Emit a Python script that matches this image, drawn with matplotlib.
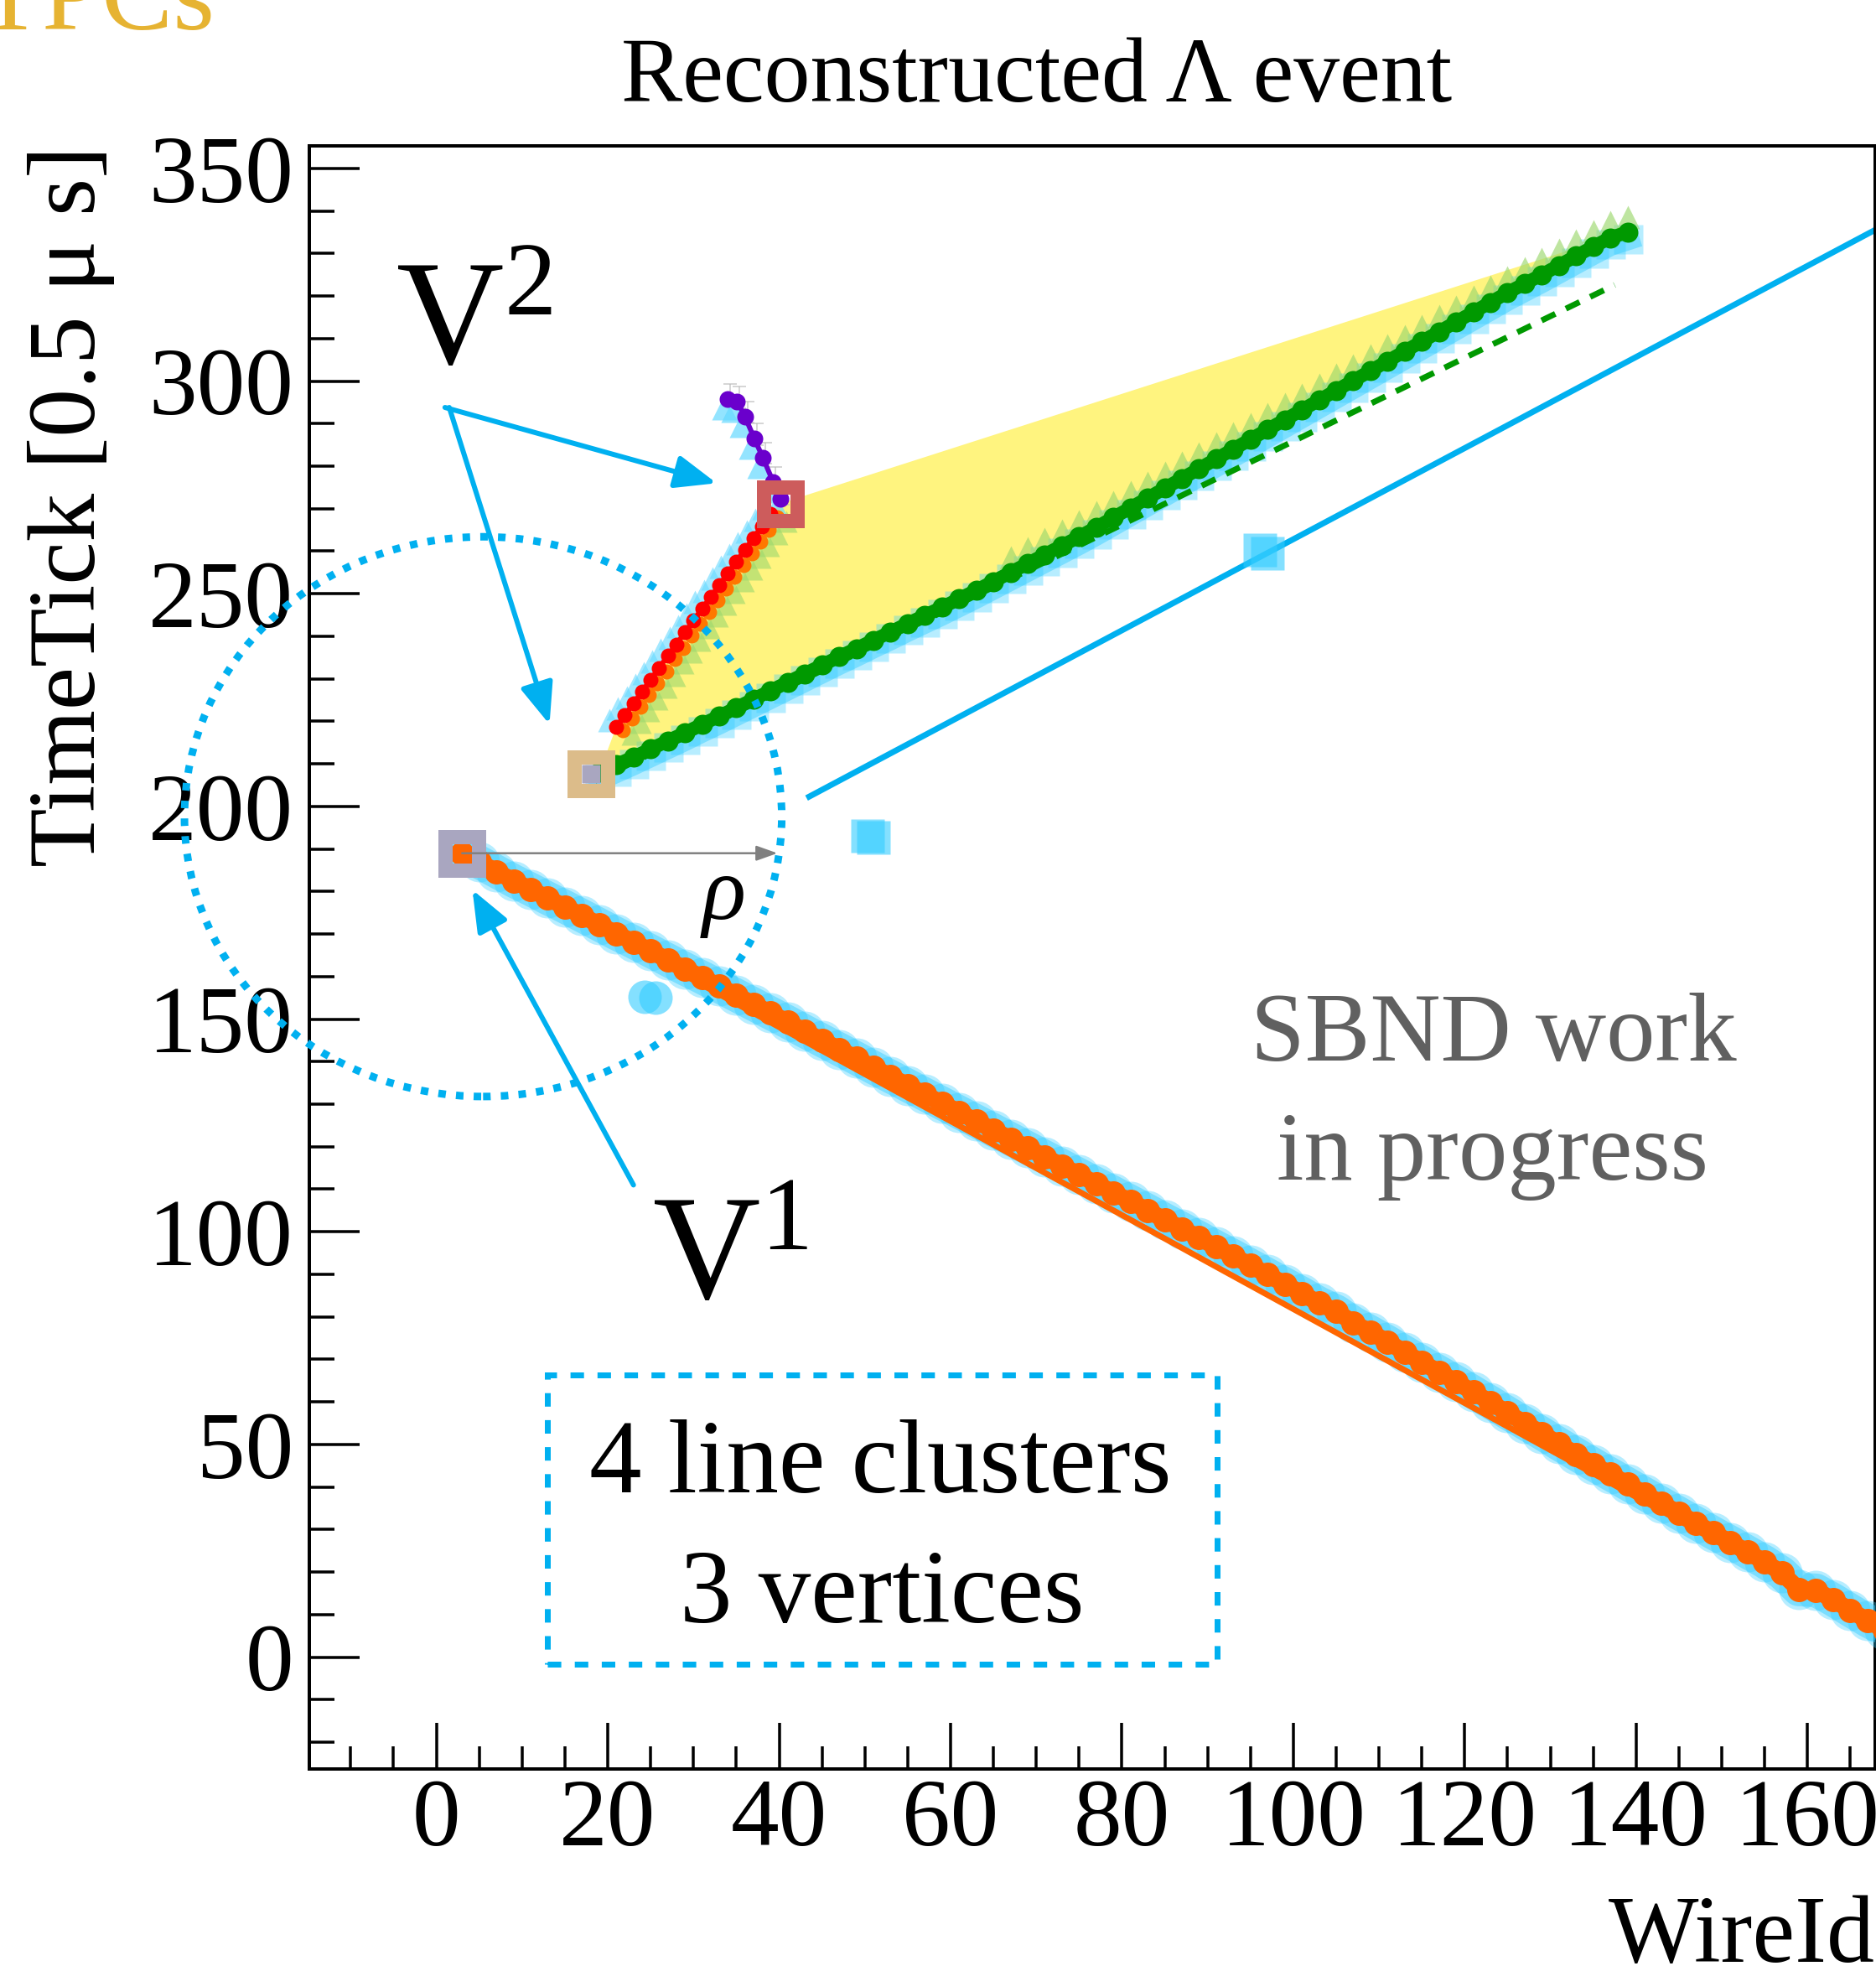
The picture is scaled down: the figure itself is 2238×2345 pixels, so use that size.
import numpy as np
import matplotlib
matplotlib.use("Agg")
from matplotlib import pyplot as plt
from matplotlib.patches import Ellipse, Rectangle, Polygon
from matplotlib.markers import MarkerStyle
from matplotlib.ticker import MultipleLocator

plt.rcParams["font.family"] = ["Liberation Serif", "DejaVu Serif"]
plt.rcParams["mathtext.fontset"] = "custom"
plt.rcParams["mathtext.rm"] = "Liberation Serif"

PX = 0.72  # points per pixel at dpi=100

# ---- data (WireId, TimeTick) ----
# cluster 1: long orange track from V1 down to the right edge
orange_wire = np.arange(3, 170, 2)
orange_time = [189.0, 186.9, 184.7, 182.5, 180.5, 178.4, 176.4, 174.3, 172.2, 170.1,
               168.1, 166.0, 163.9, 161.8, 159.8, 157.7, 155.6, 153.5, 151.4, 149.3,
               147.1, 145.0, 142.9, 140.8, 138.6, 136.5, 134.4, 132.3, 130.2, 128.1,
               126.0, 123.9, 121.8, 119.7, 117.6, 115.5, 113.4, 111.3, 109.2, 107.1,
               105.0, 102.8, 100.7, 98.6, 96.4, 94.3, 92.1, 89.9, 87.7, 85.5,
               83.2, 81.3, 78.6, 76.4, 74.1, 71.7, 69.3, 67.0, 64.7, 62.3,
               59.9, 57.4, 55.0, 52.6, 50.1, 47.7, 45.3, 43.0, 40.7, 38.4,
               36.1, 33.8, 31.5, 29.2, 27.0, 24.7, 22.4, 19.8, 15.9, 15.7,
               13.5, 11.0, 8.6, 6.4]
orange_fit_wire = [3.0, 169.0]
orange_fit_time = [189.0, 5.6]

# cluster 2: green track from V2 up to the right
green_wire = np.arange(19, 140, 2)
green_time = [208.0, 209.8, 211.6, 213.5, 215.4, 217.3, 219.3, 221.2, 223.2, 225.2,
              227.2, 229.2, 231.2, 233.2, 235.2, 237.1, 239.1, 241.0, 243.0, 244.9,
              246.8, 248.8, 250.8, 252.9, 255.0, 257.1, 259.2, 261.3, 263.4, 265.6,
              267.9, 270.2, 272.5, 274.8, 277.1, 279.4, 281.7, 284.0, 286.3, 288.6,
              290.9, 293.2, 295.5, 297.8, 300.1, 302.4, 304.7, 307.0, 309.3, 311.6,
              313.9, 316.2, 318.5, 320.8, 322.9, 325.0, 327.2, 329.4, 331.6, 333.7,
              335.0]
green_fit_wire = [18.5, 137.5]
green_fit_time = [206.0, 322.6]

# cluster 3: red track V2 -> V3
red_wire = np.arange(21, 40, 1)
red_time = [218.7, 221.5, 224.2, 227.0, 229.8, 232.6, 235.4, 238.1, 240.9, 243.7,
            246.5, 249.2, 252.0, 254.8, 257.6, 260.3, 263.1, 265.9, 268.7]

# cluster 4: short purple track ending at V3
purple_wire = [34.0, 35.1, 36.0, 37.1, 38.1, 39.3, 40.1]
purple_time = [295.8, 295.2, 291.7, 286.5, 282.0, 276.3, 272.4]

# vertices
vtx_wire = [3.0, 18.0, 40.1]
vtx_time = [189.0, 207.6, 271.2]
vtx_colors = ["#a9a6c0", "#dcbc8a", "#cd5c5c"]

# unassociated hits and a stray straight line
iso_sq_wire = [96.1, 97.0, 50.3, 51.0]
iso_sq_time = [260.3, 259.6, 193.1, 192.7]
iso_circ_wire = [24.3, 25.6]
iso_circ_time = [155.3, 155.0]
cyan_wire = [43.5, 170.0]
cyan_time = [202.3, 337.8]

# upper corner of the opening-angle region
cone_tip_wire = 138.0
cone_tip_time = 334.5

CYAN = "#00b0f0"
HALO = "#33ccff"

fig = plt.figure(figsize=(22.38, 23.45), dpi=100)
ax = fig.add_axes([369.3 / 2238, 235 / 2345, 1867.7 / 2238, 1936 / 2345])
ax.set_xlim(-14.8, 167.9)
ax.set_ylim(-26.3, 355.3)

# yellow region between the two daughter tracks
poly_x = np.concatenate([[vtx_wire[2], cone_tip_wire], green_wire[::-1], red_wire])
poly_y = np.concatenate([[vtx_time[2], cone_tip_time], green_time[::-1], red_time])
ax.add_patch(Polygon(np.column_stack([poly_x, poly_y]), closed=True,
                     fc="#fff47f", ec="none", zorder=1))

# stray line + isolated hits
ax.plot(cyan_wire, cyan_time, color=CYAN, lw=7 * PX, zorder=2)
ax.plot(iso_sq_wire, iso_sq_time, "s", ms=40 * PX, color=HALO, alpha=0.6, mec="none", zorder=3)
ax.plot(iso_circ_wire, iso_circ_time, "o", ms=40 * PX, color=HALO, alpha=0.6, mec="none", zorder=3)

# orange track: hit halo, straight fit, hits
ax.plot(orange_wire, orange_time, "-", lw=40 * PX, color=HALO, alpha=0.45,
        solid_capstyle="round", zorder=3)
ax.plot(orange_wire, orange_time, "o", ms=48 * PX, color=HALO, alpha=0.35, mec="none", zorder=3)
ax.plot(orange_fit_wire, orange_fit_time, color="#ff6600", lw=7 * PX, zorder=4)
ax.plot(orange_wire, orange_time, "-o", lw=20 * PX, ms=29 * PX, color="#ff6600",
        mec="none", zorder=5)

# green track
gw = np.array(green_wire)
gt = np.array(green_time)
ax.plot(gw, gt - 1.5, "-", lw=28 * PX, color=HALO, alpha=0.45, zorder=3)
ax.plot(gw, gt - 1.5, "s", ms=35 * PX, color=HALO, alpha=0.35, mec="none", zorder=3)
sel = gw >= 66
ax.plot(gw[sel], gt[sel] + 3.6, "^", ms=28 * PX, color="#9cd86e", alpha=0.65,
        mec="none", zorder=3)
ax.plot(green_fit_wire, green_fit_time, color="#009900", lw=7 * PX,
        ls=(0, (2.6, 2.0)), zorder=4)
ax.plot(gw, gt, "-o", ms=24 * PX, lw=16 * PX, color="#009900", mec="none", zorder=5)

# red track
rt = np.array(red_time)
ax.plot(red_wire - 0.8, rt + 1.5, "^", ms=28 * PX, color="#66d9ff", alpha=0.6, mec="none", zorder=3)
ax.plot(red_wire + 1.8, rt - 1.8, "^", ms=26 * PX, color="#9cd86e", alpha=0.6, mec="none", zorder=3)
ax.plot(red_wire + 0.8, rt - 0.8, "o", ms=18 * PX, color="#ff7700", mec="none", zorder=5)
ax.plot(red_wire, red_time, "-o", ms=18 * PX, lw=6 * PX, color="#ff0000", mec="none", zorder=6)

# purple track
pw = np.array(purple_wire)
pt = np.array(purple_time)
ax.errorbar(pw + 0.3, pt + 1.0, yerr=2.5, fmt="none", ecolor="#bbbbbb", elinewidth=2 * PX,
            capsize=6, capthick=2 * PX, alpha=0.6, zorder=3)
ax.plot(pw - 0.4, pt - 2.0, "^", ms=30 * PX, color="#66d9ff", alpha=0.7, mec="none", zorder=3)
ax.plot(purple_wire, purple_time, "-o", ms=20 * PX, lw=6 * PX, color="#6a00cc", mec="none", zorder=6)

# vertices
sq = MarkerStyle("s", joinstyle="miter")
for x, y, c in zip(vtx_wire, vtx_time, vtx_colors):
    ax.plot([x], [y], marker=sq, ms=40 * PX, mew=17 * PX, mfc="none", mec=c, zorder=8)
ax.plot([vtx_wire[1]], [vtx_time[1]], marker=sq, ms=22 * PX, color=vtx_colors[0], mec="none", zorder=7)

# search radius around V1
ax.add_patch(Ellipse((5.45, 197.6), 69.7, 131.6, fill=False, ec=CYAN, lw=9 * PX,
                     ls=(0, (1.0, 1.35)), clip_on=False, zorder=9))
ax.annotate("", xy=(39.8, vtx_time[0]), xytext=(vtx_wire[0], vtx_time[0]),
            arrowprops=dict(arrowstyle="-|>,head_length=0.7,head_width=0.25", color="#808080",
                            lw=2.5 * PX, mutation_scale=22, shrinkA=0, shrinkB=0), zorder=9)
ax.text(33.6, 178.7, "ρ", style="italic", fontsize=78, ha="center", va="center", zorder=9)

# vertex labels and arrows
arrow_kw = dict(arrowstyle="-|>,head_length=0.75,head_width=0.3", color=CYAN, lw=6 * PX,
                mutation_scale=40, shrinkA=0, shrinkB=0)
ax.annotate("", xy=(32.7, 276.0), xytext=(1.0, 293.8), arrowprops=arrow_kw, zorder=9)
ax.annotate("", xy=(13.2, 219.3), xytext=(1.5, 293.8), arrowprops=arrow_kw, zorder=9)
ax.annotate("", xy=(4.2, 180.4), xytext=(23.0, 111.0), arrowprops=arrow_kw, zorder=9)
ax.text(-4.8, 304.1, r"$\mathregular{V^{2}}$", fontsize=128, ha="left", va="baseline", zorder=9)
ax.text(25.2, 84.5, r"$\mathregular{V^{1}}$", fontsize=128, ha="left", va="baseline", zorder=9)

# text boxes
ax.text(123.4, 140.3, "SBND work", fontsize=84, color="#606060", ha="center", va="baseline")
ax.text(123.2, 112.3, "in progress", fontsize=84, color="#606060", ha="center", va="baseline")
ax.add_patch(Rectangle((13.0, -1.6), 78.1, 68.0, fill=False, ec=CYAN, lw=7 * PX,
                       ls=(0, (2.3, 2.3)), zorder=9))
ax.text(51.8, 38.8, "4 line clusters", fontsize=90, ha="center", va="baseline")
ax.text(52.0, 8.2, "3 vertices", fontsize=90, ha="center", va="baseline")

# axes styling
ax.xaxis.set_major_locator(MultipleLocator(20))
ax.xaxis.set_minor_locator(MultipleLocator(5))
ax.yaxis.set_major_locator(MultipleLocator(50))
ax.yaxis.set_minor_locator(MultipleLocator(10))
ax.tick_params(which="both", direction="in", top=False, right=False, width=3.5 * PX,
               labelsize=83)
ax.tick_params(axis="x", which="major", length=55 * PX, pad=8)
ax.tick_params(axis="x", which="minor", length=27 * PX)
ax.tick_params(axis="y", which="major", length=60 * PX, pad=14)
ax.tick_params(axis="y", which="minor", length=30 * PX)
for sp in ax.spines.values():
    sp.set_linewidth(4 * PX)

fig.text(137 / 2238, 1 - 174 / 2345, "TimeTick [0.5 μ s]", rotation=90, fontsize=83,
         ha="right", va="top")
fig.text(2237 / 2238, 1 - 2340 / 2345, "WireId", fontsize=82, ha="right", va="baseline")
fig.text(1237 / 2238, 1 - 121 / 2345, "Reconstructed Λ event", fontsize=79,
         ha="center", va="baseline")
fig.text(257 / 2238, 1 - 35 / 2345, "TPCs", fontsize=92, color="#e6b332",
         ha="right", va="baseline")

fig.savefig("out.png", dpi=100)
